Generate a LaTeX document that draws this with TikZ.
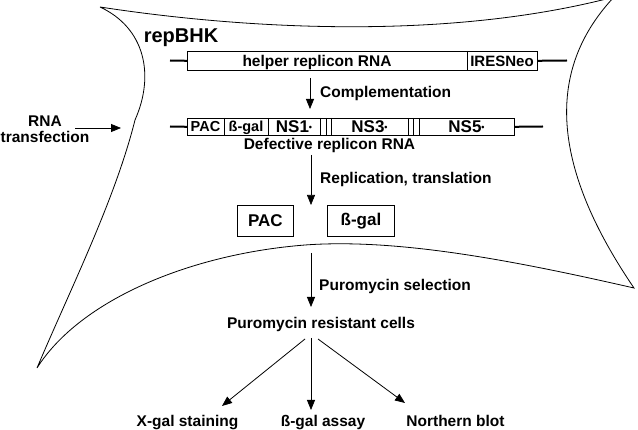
\documentclass[tikz,border=0pt]{standalone}
\usepackage{fontspec}
\setmainfont{Liberation Sans}
\usetikzlibrary{arrows.meta}
\begin{document}
\begin{tikzpicture}[x=1pt,y=-1pt,
  lbl/.style={font=\fontsize{15.5}{18}\selectfont\bfseries, inner sep=0pt, anchor=base},
  boxlbl/.style={font=\fontsize{14.5}{16}\selectfont\bfseries, inner sep=0pt, anchor=base},
  nslbl/.style={font=\fontsize{17}{19}\selectfont\bfseries, inner sep=0pt, anchor=base},
  biglbl/.style={font=\fontsize{17}{19}\selectfont\bfseries, inner sep=0pt},
  rnabox/.style={draw, line width=0.6pt, inner sep=0pt, anchor=north west},
  protbox/.style={draw, line width=0.9pt, inner sep=0pt, anchor=north west},
  rnaend/.style={line width=2pt},
  divider/.style={line width=0.6pt},
  cell/.style={line width=0.8pt},
  arr/.style={line width=0.8pt, -{Triangle[length=10pt,width=8pt]}},
  thinarr/.style={line width=0.6pt, -{Triangle[length=10pt,width=8pt]}}]
\useasboundingbox (0,0) rectangle (638,430);
\fill[white] (0,0) rectangle (638,430);

% cell outline
\draw[cell] (100,7) .. controls (250,30) and (450,40) .. (614,-3)
  .. controls (555,60) and (540,150) .. (634,288)
  .. controls (520,262) and (400,238) .. (305,245)
  .. controls (190,254) and (80,300) .. (37,368)
  .. controls (70,290) and (115,200) .. (135,120)
  .. controls (155,75) and (145,28) .. (100,7);

\node[inner sep=0pt, anchor=base, font=\fontsize{20}{22}\selectfont\bfseries] (rep) at (181,43) {repBHK};

% helper replicon
\node[rnabox, minimum width=350pt, minimum height=19pt] (helper) at (187,51) {};
\draw[divider] (467,51) -- (467,70);
\coordinate (hl) at (170,60.5);
\coordinate (hr) at (567,60.5);
\draw[rnaend] (hl) -- (helper.west);
\draw[rnaend] (helper.east) -- (hr);
\node[lbl] (helpertxt) at (317,66.5) {helper replicon RNA};
\node[lbl, font=\fontsize{15}{17}\selectfont\bfseries] (ires) at (502,66.5) {IRESNeo};

% complementation
\coordinate (c1a) at (310,78);
\coordinate (c1b) at (310,109);
\draw[arr] (c1a) -- (c1b);
\node[lbl, anchor=base west] (comp) at (320,97.5) {Complementation};

% defective replicon
\node[rnabox, minimum width=327pt, minimum height=17pt] (defect) at (187,118) {};
\foreach \xx in {224,268,320,326,331,408,413,419}
  \draw[divider] (\xx,118) -- (\xx,135);
\coordinate (dl) at (170,126.5);
\coordinate (dr) at (543,126.5);
\draw[rnaend] (dl) -- (defect.west);
\draw[rnaend] (defect.east) -- (dr);
\node[boxlbl] (pacs) at (205.5,132) {PAC};
\node[boxlbl] (gals) at (246,132) {ß-gal};
\newcommand{\nsdot}{\raisebox{2pt}{\fontsize{9}{9}\selectfont •}}
\node[nslbl] (ns1) at (294,133) {NS1\nsdot};
\node[nslbl] (ns3) at (369.5,133) {NS3\nsdot};
\node[nslbl] (ns5) at (466.5,133) {NS5\nsdot};
\node[lbl] (deftxt) at (329.5,150) {Defective replicon RNA};

% replication, translation
\coordinate (r1a) at (311,155);
\coordinate (r1b) at (311,205);
\draw[thinarr] (r1a) -- (r1b);
\node[lbl, anchor=base west] (repl) at (320,184) {Replication, translation};

% protein boxes
\node[protbox, minimum width=56pt, minimum height=31pt] (pac) at (237,205) {};
\node[biglbl] (pactxt) at (pac.center) {PAC};
\node[protbox, minimum width=67pt, minimum height=31pt] (gal) at (327,205) {};
\node[biglbl] (galtxt) at (gal.center) {ß-gal};

% puromycin selection
\coordinate (p1a) at (311,253);
\coordinate (p1b) at (311,307);
\draw[arr] (p1a) -- (p1b);
\node[lbl, anchor=base west] (pursel) at (319,290.5) {Puromycin selection};
\node[lbl] (purres) at (321,329) {Puromycin resistant cells};

% three assays
\node[lbl] (xgal) at (187.5,427) {X-gal staining};
\node[lbl] (gassay) at (323,427) {ß-gal assay};
\node[lbl] (north) at (455.5,427) {Northern blot};
\coordinate (s1) at (305,339);
\coordinate (s2) at (311,338);
\coordinate (s3) at (318,339);
\coordinate (e1) at (222,406);
\coordinate (e2) at (311,410);
\coordinate (e3) at (405,403);
\draw[arr] (s1) -- (e1);
\draw[arr] (s2) -- (e2);
\draw[arr] (s3) -- (e3);

% RNA transfection
\node[lbl] (rna) at (45,127) {RNA};
\node[lbl] (transf) at (45,143) {transfection};
\coordinate (t1) at (75,128);
\coordinate (t2) at (121,128);
\draw[arr] (t1) -- (t2);
\end{tikzpicture}
\end{document}
